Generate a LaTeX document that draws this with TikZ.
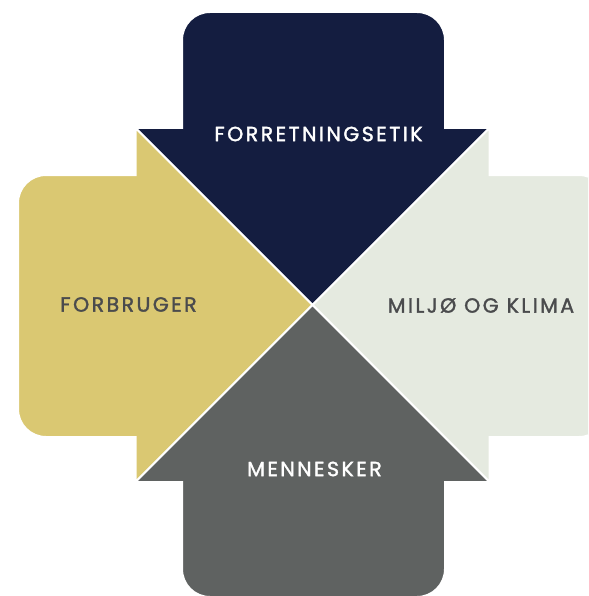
\documentclass[tikz,border=0pt]{standalone}
\usepackage{fontspec}
\setmainfont{Poppins}
\newfontfamily\lblfont[LetterSpace=12,FakeBold=1.6]{Poppins}
\definecolor{navy}{HTML}{141D40}
\definecolor{gold}{HTML}{DAC872}
\definecolor{pale}{HTML}{E5EAE0}
\definecolor{slate}{HTML}{5F6261}
\definecolor{ink}{HTML}{4A4B4D}
\tikzset{
  arrowshape/.style={draw=white, line width=2pt, line join=miter},
  lbl/.style={font=\lblfont\fontsize{20.5}{21}\selectfont, inner sep=0pt, text height=14.3pt, text depth=0pt, anchor=center}
}
\begin{document}
\begin{tikzpicture}[x=1pt,y=-1pt]
\useasboundingbox (0,0) rectangle (588,596);
\begin{scope}
\clip (0,0) rectangle (588,596);
% top (navy)
\path[arrowshape, fill=navy] (312.5,305) -- (135.5,128) -- (182,128) -- (182,40)
  .. controls (182,24.5) and (194.5,12) .. (210,12) -- (417,12)
  .. controls (432.5,12) and (445,24.5) .. (445,40) -- (445,128) -- (489.5,128) -- cycle;
% left (gold)
\path[arrowshape, fill=gold] (312.5,305) -- (135.5,128) -- (135.5,175) -- (46,175)
  .. controls (30.5,175) and (18,187.5) .. (18,203) -- (18,409)
  .. controls (18,424.5) and (30.5,437) .. (46,437) -- (135.5,437) -- (135.5,482) -- cycle;
% right (pale)
\path[arrowshape, fill=pale] (312.5,305) -- (489.5,128) -- (489.5,175) -- (579,175)
  .. controls (594.5,175) and (607,187.5) .. (607,203) -- (607,409)
  .. controls (607,424.5) and (594.5,437) .. (579,437) -- (489.5,437) -- (489.5,482) -- cycle;
% bottom (slate)
\path[arrowshape, fill=slate] (312.5,305) -- (135.5,482) -- (182,482) -- (182,569)
  .. controls (182,584.5) and (194.5,597) .. (210,597) -- (417,597)
  .. controls (432.5,597) and (445,584.5) .. (445,569) -- (445,482) -- (489.5,482) -- cycle;
\end{scope}
\node[lbl, text=white] (ethics) at (318.5,134) {FORRETNINGSETIK};
\node[lbl, text=ink] (consumer) at (128.5,304.5) {FORBRUGER};
\node[lbl, text=ink] (climate) at (481,305.5) {MILJØ OG KLIMA};
\node[lbl, text=white] (people) at (314.5,469) {MENNESKER};
\end{tikzpicture}
\end{document}
